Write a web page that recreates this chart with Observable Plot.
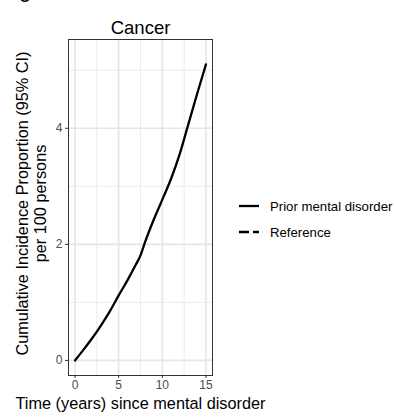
<!DOCTYPE html>
<html>
<head>
<meta charset="utf-8">
<script src="https://cdn.jsdelivr.net/npm/d3@7"></script>
<script src="https://cdn.jsdelivr.net/npm/@observablehq/plot@0.6"></script>
<style>
  html, body { margin: 0; padding: 0; background: #fff; }
  #wrap { position: relative; width: 394px; height: 417px; overflow: hidden; font-family: Arial, "Liberation Sans", sans-serif; }
  #tag { position: absolute; left: 19px; top: -21px; font-size: 22px; line-height: 22px; color: #000; }
  #legend { position: absolute; left: 239px; top: 197px; font-size: 13.2px; color: #000; }
  .row { display: flex; align-items: center; height: 18px; margin-bottom: 8px; }
  .row svg { margin-right: 11px; }
</style>
</head>
<body>
<div id="wrap">
  <div id="tag">g</div>
  <div id="chart"></div>
  <div id="legend"></div>
</div>
<script>
// Data
const title = "Cancer";
const years = [0, 1, 2, 3, 4, 5, 6, 7, 7.5, 8, 9, 10, 11, 12, 13, 14, 15];
const priorMental = [0, 0.19, 0.39, 0.61, 0.85, 1.12, 1.38, 1.66, 1.81, 2.03, 2.42, 2.77, 3.13, 3.56, 4.08, 4.60, 5.10];
const xTicks = [0, 5, 10, 15];
const xMinor = [2.5, 7.5, 12.5];
const yTicks = [0, 2, 4];
const yMinor = [1, 3, 5];
const seriesNames = ["Prior mental disorder", "Reference"];
const yLabel = "Cumulative Incidence Proportion (95% CI)\nper 100 persons";
const xLabel = "Time (years) since mental disorder";

const data = years.map((t, i) => ({t, v: priorMental[i], series: seriesNames[0]}));

const chart = Plot.plot({
  width: 394,
  height: 417,
  marginLeft: 68,
  marginRight: 182,
  marginTop: 39,
  marginBottom: 42,
  style: {fontFamily: "Arial, 'Liberation Sans', sans-serif", background: "#fff", color: "#000"},
  x: {domain: [-0.75, 15.75]},
  y: {domain: [-0.26, 5.53]},
  marks: [
    Plot.gridX(xMinor, {stroke: "#ebebeb", strokeOpacity: 1, strokeWidth: 1}),
    Plot.gridY(yMinor, {stroke: "#ebebeb", strokeOpacity: 1, strokeWidth: 1}),
    Plot.gridX(xTicks, {stroke: "#e6e6e6", strokeOpacity: 1, strokeWidth: 1.6}),
    Plot.gridY(yTicks, {stroke: "#e6e6e6", strokeOpacity: 1, strokeWidth: 1.6}),
    Plot.line(data, {x: "t", y: "v", stroke: "#000", strokeWidth: 2.3, curve: "monotone-x"}),
    Plot.frame({stroke: "#333", strokeWidth: 1}),
    Plot.axisX({ticks: xTicks, tickFormat: d3.format("d"), tickSize: 3, tickPadding: 2, fontSize: 12, stroke: "#333", fill: "#4d4d4d", label: null}),
    Plot.axisY({ticks: yTicks, tickFormat: d3.format("d"), tickSize: 3, tickPadding: 3, fontSize: 12, stroke: "#333", fill: "#4d4d4d", label: null}),
    Plot.text([title], {text: d => d, frameAnchor: "top", dy: -19, fontSize: 18.5, fill: "#000"}),
    Plot.text([xLabel], {text: d => d, frameAnchor: "bottom", dy: 33, fontSize: 16.3, fill: "#000"}),
    Plot.text([yLabel], {text: d => d, frameAnchor: "left", textAnchor: "middle", dx: -37, dy: -4, rotate: -90, fontSize: 16.3, lineHeight: 1.1, lineAnchor: "middle", fill: "#000"})
  ]
});
document.getElementById("chart").appendChild(chart);

// Legend
const legend = d3.select("#legend");
seriesNames.forEach((name, i) => {
  const row = legend.append("div").attr("class", "row");
  const s = row.append("svg").attr("width", 20).attr("height", 18);
  s.append("line").attr("x1", 0).attr("x2", 20).attr("y1", 9).attr("y2", 9)
    .attr("stroke", "#000").attr("stroke-width", 2.3)
    .attr("stroke-dasharray", i === 1 ? "10 4" : null);
  row.append("span").text(name);
});
</script>
</body>
</html>
